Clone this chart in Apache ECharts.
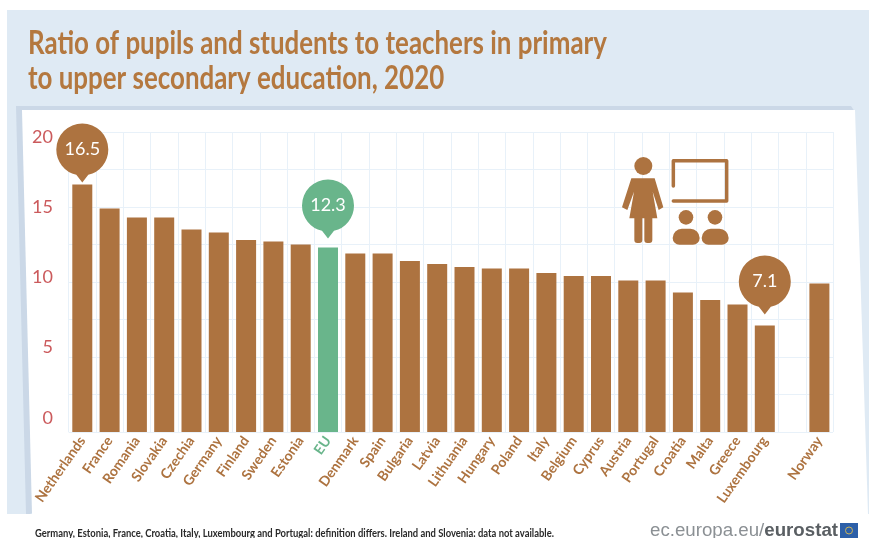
<!DOCTYPE html>
<html>
<head>
<meta charset="utf-8">
<style>html,body{margin:0;padding:0;background:#fff}#c{width:869px;height:538px}</style>
<script src="https://cdn.jsdelivr.net/npm/echarts@6/dist/echarts.min.js"></script>
</head>
<body>
<div id="c"></div>
<script>
const titleLine1 = 'Ratio of pupils and students to teachers in primary';
const titleLine2 = 'to upper secondary education, 2020';
const footnote = 'Germany, Estonia, France, Croatia, Italy, Luxembourg and Portugal: definition differs. Ireland and Slovenia: data not available.';
const categories = ['Netherlands','France','Romania','Slovakia','Czechia','Germany','Finland','Sweden','Estonia','EU','Denmark','Spain','Bulgaria','Latvia','Lithuania','Hungary','Poland','Italy','Belgium','Cyprus','Austria','Portugal','Croatia','Malta','Greece','Luxembourg','','Norway'];
const values = [16.5,14.9,14.3,14.3,13.5,13.3,12.8,12.7,12.5,12.3,11.9,11.9,11.4,11.2,11.0,10.9,10.9,10.6,10.4,10.4,10.1,10.1,9.3,8.8,8.5,7.1,null,9.9];
const highlighted = ['Netherlands','EU','Luxembourg'];
const bubbleGaps = [2,9,11];
const brown = '#AD7340', green = '#69B58B', red = '#CB5A5C', gridC = '#E8F1F9';
const pinPath = 'path://M26 0A26 26 0 0 1 52 26A26 26 0 0 1 32 51.3L26 59L20 51.3A26 26 0 0 1 0 26A26 26 0 0 1 26 0Z';
const face = 'Lato,"Liberation Sans",sans-serif';
const z = (X,Y)=>[580+X/3,130+Y/3];
const poly = pts => pts.map(p=>z(p[0],p[1]));
const icon = {fill:brown};
const chart = echarts.init(document.getElementById('c'),null,{renderer:'canvas'});
chart.setOption({
  animation:false,
  backgroundColor:'#fff',
  grid:[
    {left:68.65,top:132,width:764.4,height:300},
    {left:60,top:136.7,width:10,height:281.3}
  ],
  xAxis:[
    {type:'category',gridIndex:0,data:categories,axisLine:{show:false},axisTick:{show:false},
     splitLine:{show:true,interval:0,lineStyle:{color:gridC,width:1}},
     axisLabel:{interval:0,rotate:55,margin:6,fontFamily:face,fontWeight:'bold',fontSize:14,
       color:v=>v==='EU'?green:brown}},
    {type:'category',gridIndex:1,data:[''],show:false}
  ],
  yAxis:[
    {type:'value',gridIndex:0,min:0,max:20,interval:2.5,axisLine:{show:false},axisTick:{show:false},axisLabel:{show:false},
     splitLine:{show:true,lineStyle:{color:gridC,width:1}}},
    {type:'value',gridIndex:1,min:0,max:20,interval:5,axisLine:{show:false},axisTick:{show:false},splitLine:{show:false},
     axisLabel:{color:red,fontFamily:face,fontSize:18,margin:7}}
  ],
  series:[{
    type:'bar',xAxisIndex:0,yAxisIndex:0,barWidth:20,
    data:values.map((v,i)=>({value:v,itemStyle:{color:categories[i]==='EU'?green:brown}})),
    markPoint:{
      symbol:pinPath,symbolSize:[52,59],
      data:highlighted.map((n,k)=>{
        const val=values[categories.indexOf(n)];
        return {xAxis:n,yAxis:val,value:val,symbolOffset:[0,-(29.5+bubbleGaps[k])],
          itemStyle:{color:n==='EU'?green:brown},
          label:{show:true,position:'inside',offset:[0,-3.5],color:'#fff',fontFamily:face,fontSize:18,formatter:p=>p.value.toFixed(1)}};
      })
    }
  }],
  graphic:{elements:[
    {type:'rect',z:-3,shape:{x:7,y:10,width:862,height:504},style:{fill:'#DFEAF4'}},
    {type:'polygon',z:-2,shape:{points:[[16,106],[851,106],[855,112],[30,514],[26,514]]},style:{fill:'#CBD8E7'}},
    {type:'polygon',z:-1,shape:{points:[[22,110],[855,110],[868,514],[32,514]]},style:{fill:'#fff'}},
    {type:'text',z:10,x:28,y:43,scaleX:0.785,style:{text:titleLine1,verticalAlign:'middle',fontFamily:face,fontWeight:'bold',fontSize:33,fill:'#B4783F'}},
    {type:'text',z:10,x:28,y:78,scaleX:0.785,style:{text:titleLine2,verticalAlign:'middle',fontFamily:face,fontWeight:'bold',fontSize:33,fill:'#B4783F'}},
    {type:'circle',z:10,shape:{cx:z(190,0)[0],cy:z(0,108)[1],r:9},style:icon},
    {type:'polygon',z:10,shape:{points:poly([[154,145],[224,145],[250,232],[236,240],[218,185],[232,265],[148,265],[162,185],[142,240],[126,232]])},style:icon},
    {type:'rect',z:10,shape:{x:z(163,0)[0],y:z(0,255)[1],width:8,height:28,r:3},style:icon},
    {type:'rect',z:10,shape:{x:z(193,0)[0],y:z(0,255)[1],width:8,height:28,r:3},style:icon},
    {type:'polyline',z:10,shape:{points:poly([[280,168],[280,92],[440,92],[440,213],[280,213]])},style:{fill:'none',stroke:brown,lineWidth:3.5,lineCap:'round',lineJoin:'round'}},
    {type:'circle',z:10,shape:{cx:z(318,0)[0],cy:z(0,262)[1],r:7.3},style:icon},
    {type:'circle',z:10,shape:{cx:z(405,0)[0],cy:z(0,262)[1],r:7.3},style:icon},
    {type:'rect',z:10,shape:{x:z(278,0)[0],y:z(0,296)[1],width:27,height:16,r:[11,11,8,8]},style:icon},
    {type:'rect',z:10,shape:{x:z(365,0)[0],y:z(0,296)[1],width:27,height:16,r:[11,11,8,8]},style:icon},
    {type:'text',z:10,x:35,y:527,scaleX:0.82,style:{text:footnote,fontFamily:face,fontWeight:'bold',fontSize:11.5,fill:'#2a2a2a'}},
    {type:'text',z:10,x:838,y:531,style:{align:'right',verticalAlign:'middle',text:'{a|ec.europa.eu/}{b|eurostat}',
      rich:{a:{fontFamily:'"Liberation Sans",sans-serif',fontSize:18.7,fill:'#8B9094',color:'#8B9094'},
            b:{fontFamily:'"Liberation Sans",sans-serif',fontSize:18.7,fontWeight:'bold',fill:'#5A5F63',color:'#5A5F63'}}}},
    {type:'rect',z:10,shape:{x:840,y:523,width:18,height:15},style:{fill:'#2C5FA8'}},
    {type:'circle',z:11,shape:{cx:849,cy:530.5,r:3.5},style:{fill:'none',stroke:'#C9B35A',lineWidth:1}}
  ]}
});
</script>
</body>
</html>
